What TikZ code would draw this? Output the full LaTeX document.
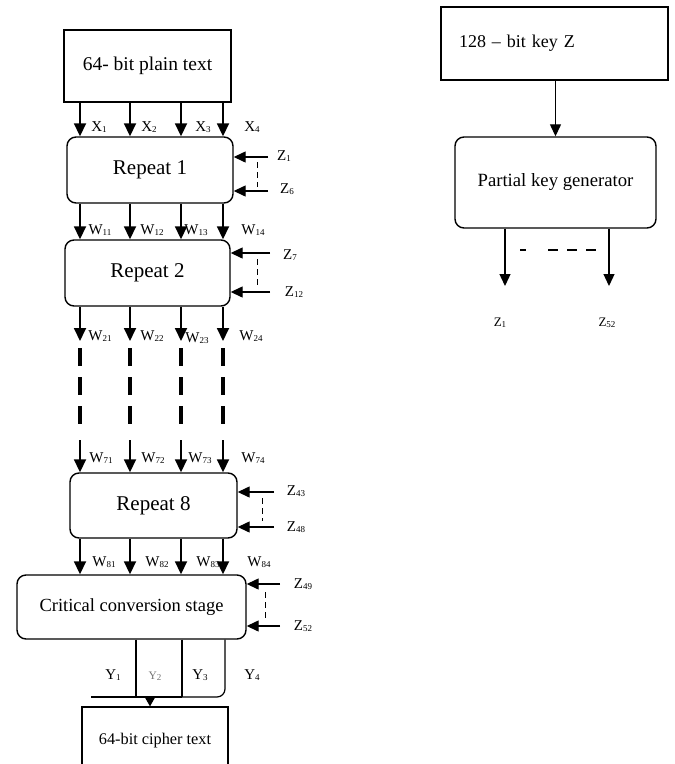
\documentclass[tikz,border=0pt]{standalone}
\usepackage{fontspec}
\setmainfont{Liberation Serif}
\usetikzlibrary{arrows.meta}

% letter with a small index set close to the baseline
\newcommand{\lbl}[2]{#1{\fontsize{9}{9}\selectfont\raisebox{-1pt}{#2}}}

\tikzset{
  box/.style={draw, line width=1.2pt, inner sep=0pt, font=\fontsize{18}{20}\selectfont},
  rbox/.style={box, rounded corners=9pt, line width=1.4pt},
  arr/.style={-{Triangle[length=13pt,width=12pt]}, line width=1.8pt},
  karr/.style={-{Triangle[length=12pt,width=11pt]}, line width=1.3pt},
  dashv/.style={line width=0.9pt, dash pattern=on 6pt off 4pt},
  thickdash/.style={line width=4pt, dash pattern=on 18pt off 11pt},
  wire/.style={line width=1.2pt},
  lab/.style={inner sep=0pt, font=\fontsize{15}{15}\selectfont},
  slab/.style={inner sep=0pt, font=\fontsize{13}{13}\selectfont}
}

\begin{document}
\begin{tikzpicture}[x=1pt, y=-1pt]
\clip (0,0) rectangle (675,764);
\fill[white] (0,0) rectangle (675,764);

% ---------- encryption chain ----------
\node[box, minimum width=167pt, minimum height=72pt, font=\fontsize{19.5}{21}\selectfont] (plain) at (147.5,66) {64- bit plain text};
\node[rbox, minimum width=166pt, minimum height=66pt, font=\fontsize{21}{23}\selectfont] (r1) at (150,170) {Repeat 1};
\node[rbox, minimum width=165pt, minimum height=66pt, font=\fontsize{21}{23}\selectfont] (r2) at (147.5,273) {Repeat 2};
\node[rbox, minimum width=167pt, minimum height=65pt, font=\fontsize{21}{23}\selectfont] (r8) at (153.5,505.5) {Repeat 8};
\node[rbox, minimum width=229pt, minimum height=64pt, font=\fontsize{18.5}{20}\selectfont] (cs) at (131.5,607) {Critical conversion stage};
\node[box, minimum width=146pt, minimum height=68pt, font=\fontsize{16.3}{18}\selectfont] (ct) at (155,741) {64-bit cipher text};

% data columns
\coordinate (c1) at (80,0);
\coordinate (c2) at (130,0);
\coordinate (c3) at (181,0);
\coordinate (c4) at (223,0);

\foreach \c in {c1,c2,c3,c4} {
  \draw[arr] (plain.south -| \c) -- (r1.north -| \c);
  \draw[arr] (r1.south -| \c) -- (r2.north -| \c);
  \draw[arr] (r2.south -| \c) -- (\c |- 0,341);
  \draw[thickdash] (\c |- 0,348) -- (\c |- 0,428);
  \draw[arr] (\c |- 0,440) -- (r8.north -| \c);
  \draw[arr] (r8.south -| \c) -- (cs.north -| \c);
}

% input and intermediate word labels
\node[lab] (x1) at (99,127) {\lbl{X}{1}};
\node[lab] (x2) at (149,127) {\lbl{X}{2}};
\node[lab] (x3) at (203,127) {\lbl{X}{3}};
\node[lab] (x4) at (252,127) {\lbl{X}{4}};

\node[lab] (w11) at (100,230) {\lbl{W}{11}};
\node[lab] (w12) at (152,230) {\lbl{W}{12}};
\node[lab] (w13) at (196,230) {\lbl{W}{13}};
\node[lab] (w14) at (253,230) {\lbl{W}{14}};

\node[lab] (w21) at (100,336) {\lbl{W}{21}};
\node[lab] (w22) at (152,336) {\lbl{W}{22}};
\node[lab] (w23) at (197,338) {\lbl{W}{23}};
\node[lab] (w24) at (251,336) {\lbl{W}{24}};

\node[lab] (w71) at (101,458) {\lbl{W}{71}};
\node[lab] (w72) at (153,458) {\lbl{W}{72}};
\node[lab] (w73) at (200,458) {\lbl{W}{73}};
\node[lab] (w74) at (253,458) {\lbl{W}{74}};

\node[lab] (w81) at (104,562) {\lbl{W}{81}};
\node[lab] (w82) at (157,562) {\lbl{W}{82}};
\node[lab] (w83) at (208,562) {\lbl{W}{83}};
\node[lab] (w84) at (259,562) {\lbl{W}{84}};

% ---------- partial keys entering each stage ----------
\coordinate (k1a) at (268,157);
\coordinate (k1b) at (268,191);
\draw[karr] (k1a) -- (k1a -| r1.east);
\draw[karr] (k1b) -- (k1b -| r1.east);
\draw[dashv] (257,162) -- (257,187);
\node[lab] (z1) at (284,156) {\lbl{Z}{1}};
\node[lab] (z6) at (287,189) {\lbl{Z}{6}};

\coordinate (k2a) at (270,253);
\coordinate (k2b) at (270,292);
\draw[karr] (k2a) -- (k2a -| r2.east);
\draw[karr] (k2b) -- (k2b -| r2.east);
\draw[dashv] (257,259) -- (257,286);
\node[lab] (z7) at (290,255) {\lbl{Z}{7}};
\node[lab] (z12) at (294,292) {\lbl{Z}{12}};

\coordinate (k8a) at (274,492);
\coordinate (k8b) at (274,527);
\draw[karr] (k8a) -- (k8a -| r8.east);
\draw[karr] (k8b) -- (k8b -| r8.east);
\draw[dashv] (262,498) -- (262,521);
\node[lab] (z43) at (296,491) {\lbl{Z}{43}};
\node[lab] (z48) at (296,527) {\lbl{Z}{48}};

\coordinate (kca) at (280,584);
\coordinate (kcb) at (280,626);
\draw[karr] (kca) -- (kca -| cs.east);
\draw[karr] (kcb) -- (kcb -| cs.east);
\draw[dashv] (265,592) -- (265,618);
\node[lab] (z49) at (303,584) {\lbl{Z}{49}};
\node[lab] (z52) at (303,626) {\lbl{Z}{52}};

% ---------- output words joined into the cipher text ----------
\coordinate (yb) at (0,697);
\coordinate (o2) at (136,0);
\coordinate (o3) at (182,0);
\coordinate (o4) at (225,0);
\coordinate (o5) at (150,0);
\coordinate (hl) at (91,697);
\draw[wire] (cs.south -| o2) -- (o2 |- yb);
\draw[wire] (cs.south -| o3) -- (o3 |- yb);
\draw[wire, rounded corners=8pt] (cs.south -| o4) -- (o4 |- yb) -- (o3 |- yb);
\draw[wire] (hl) -- (o3 |- yb);
\draw[-{Triangle[length=10pt,width=11pt]}, line width=1.2pt] (o5 |- yb) -- (ct.north -| o5);

\node[lab] (y1) at (113,675) {\lbl{Y}{1}};
\node[inner sep=0pt, font=\fontsize{11.5}{11.5}\selectfont, text=black!55] (y2) at (155,676) {\lbl{Y}{2}};
\node[lab] (y3) at (200,675) {\lbl{Y}{3}};
\node[lab] (y4) at (252,675) {\lbl{Y}{4}};

% ---------- key schedule ----------
\node[box, minimum width=227pt, minimum height=73pt, text width=191pt, inner xsep=18pt, align=left] (key) at (554.5,43.5) {128 -- bit key Z};
\node[rbox, minimum width=201pt, minimum height=91pt, font=\fontsize{18.7}{20}\selectfont] (pkg) at (555.5,182.5) {Partial key generator\\[8pt]};
\draw[karr] (key.south -| pkg.north) -- (pkg.north);

\coordinate (p1) at (505,0);
\coordinate (p2) at (609,0);
\draw[karr] (pkg.south -| p1) -- (p1 |- 0,286);
\draw[karr] (pkg.south -| p2) -- (p2 |- 0,286);
\draw[line width=1.3pt] (520,250) -- (526,250);
\draw[line width=1.3pt, dash pattern=on 10pt off 9pt] (548,250) -- (598,250);
\node[slab] (kz1) at (500,323) {\lbl{Z}{1}};
\node[slab] (kz52) at (607,323) {\lbl{Z}{52}};
\end{tikzpicture}
\end{document}
